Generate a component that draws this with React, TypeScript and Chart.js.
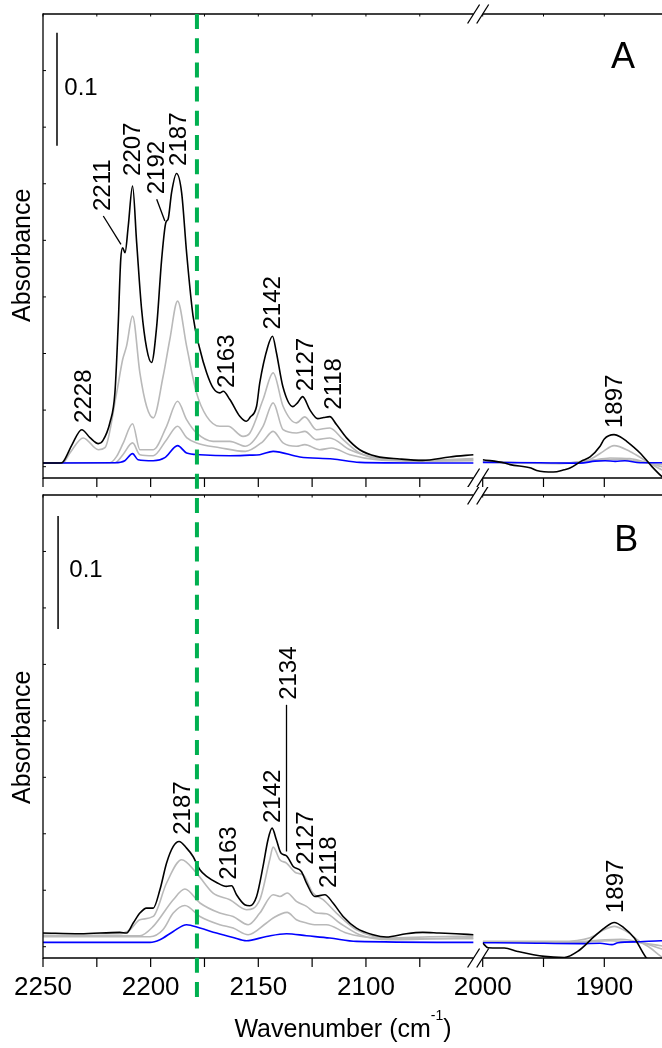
import React, { useEffect, useRef } from "react";
import { Chart, registerables } from "chart.js";

Chart.register(...registerables);

type Pt = [number, number];
type Peak = { text: string; x: number; y: number };
type Leader = [number, number, number, number];

const FONT = '"Liberation Sans", Arial, Helvetica, sans-serif';
const BLACK = "#000000";
const GREY = "#b9b9b9";
const BLUE = "#0000ff";
const GREEN = "#00b050";

// ---------- axes ----------
const Y_MIN = -0.01;
const Y_MAX = 0.4;
const LEFT_MIN = 2050;
const LEFT_MAX = 2250;
const RIGHT_MIN = 1850;
const RIGHT_MAX = 2000;
const leftTicks = [2250, 2225, 2200, 2175, 2150, 2125, 2100, 2075];
const leftTickLabels = [2250, 2200, 2150, 2100];
const rightTicks = [2000, 1950, 1900];
const rightTickLabels = [2000, 1900];
const yTicks = [0, 0.05, 0.1, 0.15, 0.2, 0.25, 0.3, 0.35];
const markerWavenumber = 2178.5;
const scaleBarValue = 0.1;

// ---------- panel A, 2250-2050 ----------
const aLeftBlack: Pt[] = [
  [2250, 0.0033], [2242, 0.0033], [2240.6, 0.0044], [2236.5, 0.0195], [2232, 0.0327],
  [2228.2, 0.0257], [2224.3, 0.0204], [2222.2, 0.023], [2218.9, 0.039], [2216.6, 0.0652],
  [2215.1, 0.124], [2213.9, 0.183], [2213.0, 0.1935], [2211.9, 0.189], [2210.4, 0.2127],
  [2208.4, 0.248], [2206.5, 0.198], [2204.2, 0.139], [2201.9, 0.105], [2199.6, 0.092],
  [2197.2, 0.124], [2194.9, 0.183], [2192.9, 0.216], [2191.9, 0.2186], [2190.3, 0.242],
  [2188.0, 0.259], [2185.6, 0.242], [2183.3, 0.189], [2180.3, 0.133], [2177.1, 0.1035],
  [2174.0, 0.083], [2171.0, 0.0696], [2167.9, 0.0652], [2166.3, 0.0666], [2163.2, 0.0593],
  [2158.6, 0.0445], [2155.5, 0.0401], [2153.9, 0.0434], [2150.8, 0.0534], [2149.3, 0.0743],
  [2145.6, 0.106], [2143.4, 0.1153], [2141.6, 0.1009], [2138.6, 0.0708], [2134.0, 0.0531],
  [2131.7, 0.0566], [2129.4, 0.0619], [2126.1, 0.0504], [2122.4, 0.0425], [2119.6, 0.0434],
  [2116.8, 0.0442], [2113.7, 0.0372], [2109.1, 0.0257], [2102.9, 0.015], [2095.1, 0.0091],
  [2084.3, 0.0068], [2073.7, 0.0056], [2061.1, 0.0086], [2050, 0.0106],
];
const aLeftGrey1: Pt[] = [
  [2250, 0.0033], [2240.7, 0.0035], [2237.5, 0.0121], [2231.3, 0.0254], [2224.3, 0.015],
  [2221.2, 0.0168], [2215.8, 0.0652], [2213.0, 0.0947], [2211.2, 0.1065], [2208.4, 0.133],
  [2205.0, 0.0829], [2201.9, 0.0534], [2198.8, 0.0431], [2194.2, 0.0799], [2191.1, 0.1124],
  [2187.5, 0.1463], [2183.3, 0.1065], [2178.7, 0.0652], [2174.0, 0.0445], [2167.9, 0.0357],
  [2164.0, 0.0357], [2157.1, 0.0268], [2153.9, 0.0298], [2147.8, 0.0593], [2143.1, 0.0829],
  [2138.5, 0.0534], [2132.3, 0.0387], [2128.4, 0.044], [2123.0, 0.0327], [2116.8, 0.0342],
  [2110.6, 0.0239], [2102.9, 0.0121], [2092.1, 0.0068], [2075.1, 0.0058], [2050, 0.0071],
];
const aLeftGrey2: Pt[] = [
  [2250, 0.0033], [2218.9, 0.0035], [2215.8, 0.0091], [2212.7, 0.021], [2208.4, 0.038],
  [2205.0, 0.015], [2198.8, 0.015], [2192.6, 0.0357], [2187.5, 0.0578], [2183.3, 0.0416],
  [2178.7, 0.0298], [2171.0, 0.0224], [2163.2, 0.0224], [2156.0, 0.018], [2147.8, 0.0357],
  [2143.1, 0.0564], [2138.5, 0.0327], [2132.3, 0.0298], [2128.4, 0.0312], [2123.0, 0.0239],
  [2116.8, 0.0254], [2107.5, 0.015], [2095.1, 0.0077], [2075.1, 0.0053], [2050, 0.0062],
];
const aLeftGrey3: Pt[] = [
  [2250, 0.0033], [2216.6, 0.0035], [2212.9, 0.0106], [2208.4, 0.021], [2205.0, 0.0106],
  [2198.8, 0.0097], [2192.6, 0.0239], [2187.5, 0.0357], [2183.3, 0.0257], [2178.7, 0.021],
  [2167.9, 0.0168], [2156.0, 0.0135], [2148.0, 0.022], [2143.1, 0.0312], [2138.5, 0.021],
  [2132.3, 0.018], [2128.4, 0.0195], [2121.5, 0.015], [2116.0, 0.0165], [2107.5, 0.0106],
  [2095.1, 0.0062], [2075.1, 0.0049], [2050, 0.0053],
];
const aLeftBlue: Pt[] = [
  [2250, 0.0033], [2216.6, 0.0035], [2212.0, 0.0053], [2208.4, 0.0115], [2205.9, 0.0062],
  [2198.8, 0.0053], [2193.4, 0.008], [2187.5, 0.0186], [2183.3, 0.0121], [2177.1, 0.0106],
  [2163.2, 0.0097], [2153.9, 0.0102], [2149.3, 0.0106], [2143.1, 0.0135], [2130.7, 0.0086],
  [2115.4, 0.0068], [2102.9, 0.0038], [2075.1, 0.0033], [2050, 0.0033],
];

// ---------- panel A, 2000-1850 ----------
const aRightBlack: Pt[] = [
  [2000, 0.0062], [1982.2, 0.0033], [1977.5, 0.0018], [1960.3, -0.0012], [1955.6, -0.0033],
  [1941.9, -0.0047], [1932.9, -0.0027], [1928.2, -0.0012], [1919.2, 0.0047], [1911.7, 0.0086],
  [1903.5, 0.018], [1900.0, 0.0245], [1892.0, 0.0283], [1887.0, 0.0265], [1881.6, 0.0224],
  [1870.6, 0.0121], [1861.0, 0.0003], [1852.8, -0.0086], [1850, -0.011],
];
const aRightGrey1: Pt[] = [
  [2000, 0.0044], [1969.3, 0.0035], [1936.4, 0.0031], [1920, 0.0033], [1907.7, 0.0088],
  [1900.8, 0.0135], [1892, 0.0186], [1878.9, 0.0135], [1865.1, 0.0047], [1852.8, -0.0027],
  [1850, -0.004],
];
const aRightGrey2: Pt[] = [
  [2000, 0.0044], [1936.4, 0.0027], [1911.7, 0.0053], [1895.3, 0.0077], [1878.9, 0.0071],
  [1862.4, 0.0027], [1852.8, 0.0], [1850, -0.0008],
];
const aRightGrey3: Pt[] = [
  [2000, 0.004], [1936.4, 0.0031], [1903.5, 0.0062], [1886.5, 0.0066], [1866, 0.0035],
  [1852.8, 0.0018], [1850, 0.0015],
];
const aRightBlue: Pt[] = [
  [2000, 0.0038], [1952.9, 0.0035], [1920, 0.0031], [1907.7, 0.0049], [1899.4, 0.0053],
  [1891, 0.0047], [1883, 0.0053], [1870.6, 0.0035], [1852.8, 0.0035], [1850, 0.0035],
];

// ---------- panel B, 2250-2050 ----------
const bLeftBlack: Pt[] = [
  [2250, 0.0121], [2232.8, 0.0115], [2214.3, 0.0127], [2211.2, 0.0121], [2208.1, 0.021],
  [2205.0, 0.0298], [2201.9, 0.0342], [2198.8, 0.0342], [2195.7, 0.0504], [2192.6, 0.0741],
  [2189.5, 0.0888], [2186.8, 0.0932], [2183.3, 0.0873], [2180.3, 0.0799], [2177.1, 0.0681],
  [2174.0, 0.0622], [2169.4, 0.0569], [2164.8, 0.0534], [2162.4, 0.054], [2160.1, 0.046],
  [2156.3, 0.0372], [2153.9, 0.0363], [2150.8, 0.0445], [2147.8, 0.0711], [2145.5, 0.0947],
  [2143.6, 0.105], [2141.6, 0.0947], [2139.5, 0.0829], [2136.9, 0.0805], [2133.8, 0.0711],
  [2130.0, 0.0666], [2127.6, 0.0564], [2123.8, 0.0445], [2119.1, 0.046], [2115.3, 0.0387],
  [2110.6, 0.0268], [2104.4, 0.0165], [2096.7, 0.0106], [2090.5, 0.0086], [2081.3, 0.0115],
  [2073.6, 0.0127], [2066.0, 0.0121], [2058.1, 0.0115], [2050, 0.0106],
];
const bLeftGrey1: Pt[] = [
  [2250, 0.0115], [2214.3, 0.0115], [2209.6, 0.015], [2205.0, 0.0239], [2198.8, 0.0268],
  [2192.6, 0.0564], [2185.6, 0.077], [2178.7, 0.0652], [2171.0, 0.0475], [2163.2, 0.0416],
  [2155.5, 0.0327], [2149.3, 0.0416], [2144.7, 0.077], [2143.1, 0.0882], [2140.0, 0.077],
  [2136.9, 0.0741], [2132.3, 0.0652], [2129.2, 0.0637], [2124.6, 0.0475], [2119.9, 0.0416],
  [2113.7, 0.0298], [2104.4, 0.015], [2089.0, 0.0077], [2070.4, 0.0088], [2050, 0.0093],
];
const bLeftGrey2: Pt[] = [
  [2250, 0.0097], [2205.0, 0.0097], [2198.8, 0.018], [2189.5, 0.0416], [2184.1, 0.0511],
  [2177.1, 0.0387], [2167.9, 0.0298], [2161.7, 0.0268], [2154.7, 0.0195], [2149.3, 0.0298],
  [2143.1, 0.046], [2140.0, 0.0445], [2136.6, 0.0475], [2132.3, 0.0401], [2127.6, 0.0357],
  [2123.0, 0.0298], [2118.4, 0.0292], [2112.2, 0.021], [2102.9, 0.0106], [2089.0, 0.0062],
  [2050, 0.008],
];
const bLeftGrey3: Pt[] = [
  [2250, 0.0088], [2200.3, 0.0088], [2194.3, 0.015], [2189.5, 0.0298], [2184.1, 0.0365],
  [2177.1, 0.0268], [2167.9, 0.0195], [2161.7, 0.0165], [2154.7, 0.0106], [2146.2, 0.021],
  [2143.1, 0.0254], [2136.6, 0.0304], [2132.3, 0.0239], [2127.6, 0.021], [2123.0, 0.0195],
  [2118.4, 0.0195], [2109.1, 0.0121], [2096.9, 0.008], [2050, 0.0071],
];
const bLeftBlue: Pt[] = [
  [2250, 0.0038], [2200.3, 0.0038], [2195.7, 0.0062], [2189.5, 0.0135], [2183.3, 0.0195],
  [2177.1, 0.0165], [2169.4, 0.0121], [2161.7, 0.0082], [2155.5, 0.0053], [2146.2, 0.0091],
  [2136.9, 0.0115], [2127.6, 0.0097], [2116.8, 0.0077], [2104.4, 0.0047], [2050, 0.0038],
];

// ---------- panel B, 2000-1850 ----------
const bRightBlack: Pt[] = [
  [2000, 0.0033], [1995.6, -0.0009], [1982.2, -0.0012], [1971.2, -0.0042], [1949.3, -0.0086],
  [1932.9, -0.0095], [1921.9, -0.0042], [1908.2, 0.0091], [1900.0, 0.0165], [1891.8, 0.0215],
  [1883.6, 0.0165], [1875.3, 0.0077], [1865.7, -0.0095], [1858.3, -0.016],
];
const bRightGrey1: Pt[] = [
  [2000, 0.0047], [1936.4, 0.0047], [1911.7, 0.008], [1900.2, 0.015], [1891.8, 0.018],
  [1883, 0.0142], [1870.6, 0.0044], [1862.4, -0.0009], [1853.4, -0.0086], [1850, -0.011],
];
const bRightGrey2: Pt[] = [
  [2000, 0.0044], [1920, 0.0044], [1899.4, 0.0062], [1886.5, 0.0066], [1866, 0.0027],
  [1853.4, -0.0018], [1850, -0.0025],
];
const bRightGrey3: Pt[] = [
  [2000, 0.004], [1920, 0.004], [1895.3, 0.0053], [1870.6, 0.0035], [1853.4, 0.0009],
  [1850, 0.0005],
];
const bRightBlue: Pt[] = [
  [2000, 0.0035], [1969.3, 0.0033], [1920, 0.0027], [1903.5, 0.0031], [1893.7, 0.0018],
  [1888.8, 0.0035], [1870.6, 0.0044], [1853.4, 0.0053], [1850, 0.0053],
];

// ---------- peak labels (wavenumber of label centre, absorbance of label start) ----------
const peaksALeft: Peak[] = [
  { text: "2228", x: 2231.5, y: 0.0387 },
  { text: "2211", x: 2222.8, y: 0.2259 },
  { text: "2207", x: 2209.1, y: 0.2569 },
  { text: "2192", x: 2197.8, y: 0.2407 },
  { text: "2187", x: 2187.7, y: 0.2658 },
  { text: "2163", x: 2165.3, y: 0.0696 },
  { text: "2142", x: 2143.7, y: 0.1212 },
  { text: "2127", x: 2128.6, y: 0.0666 },
  { text: "2118", x: 2115.5, y: 0.0504 },
];
const peaksARight: Peak[] = [{ text: "1897", x: 1892.7, y: 0.0342 }];
const peaksBLeft: Peak[] = [
  { text: "2187", x: 2185.6, y: 0.0991 },
  { text: "2163", x: 2164.4, y: 0.0593 },
  { text: "2142", x: 2144.1, y: 0.1095 },
  { text: "2134", x: 2136.5, y: 0.2186 },
  { text: "2127", x: 2128.8, y: 0.0726 },
  { text: "2118", x: 2118.1, y: 0.0519 },
];
const peaksBRight: Peak[] = [{ text: "1897", x: 1892.0, y: 0.0298 }];
const leadersA: Leader[] = [
  [2222.0, 0.2215, 2213.8, 0.1965],
  [2197.2, 0.2363, 2193.4, 0.2171],
];
const leadersB: Leader[] = [[2136.9, 0.2142, 2136.9, 0.0843]];

// ---------- layout ----------
type TextSpec = { text: string; x: number; y: number; size: number; align: CanvasTextAlign; rotate?: boolean };
interface Spec {
  id: string;
  box: { left: number; top: number; width: number; height: number };
  area: { left: number; top: number; right: number; bottom: number };
  xMin: number;
  xMax: number;
  series: { data: Pt[]; color: string }[];
  xTicks: number[];
  xLabels: number[];
  side: "left" | "right";
  peaks: Peak[];
  leaders: Leader[];
  texts: TextSpec[];
  scaleBar?: { x: number; y0: number };
  marker?: boolean;
  title?: boolean;
}

const series = (b: Pt[], g1: Pt[], g2: Pt[], g3: Pt[], bl: Pt[]) => [
  { data: b, color: BLACK },
  { data: bl, color: BLUE },
  { data: g1, color: GREY },
  { data: g2, color: GREY },
  { data: g3, color: GREY },
];

const specs: Spec[] = [
  {
    id: "aL",
    box: { left: 0, top: 0, width: 480, height: 487 },
    area: { left: 43, top: 14, right: 473.6, bottom: 478 },
    xMin: LEFT_MIN, xMax: LEFT_MAX,
    series: series(aLeftBlack, aLeftGrey1, aLeftGrey2, aLeftGrey3, aLeftBlue),
    xTicks: leftTicks, xLabels: [], side: "left",
    peaks: peaksALeft, leaders: leadersA,
    texts: [
      { text: "Absorbance", x: 30, y: 322, size: 25, align: "left", rotate: true },
      { text: "0.1", x: 64.3, y: 95, size: 24, align: "left" },
    ],
    scaleBar: { x: 2243.5, y0: 0.2835 },
    marker: true,
  },
  {
    id: "aR",
    box: { left: 440, top: 0, width: 228, height: 487 },
    area: { left: 482.7, top: 14, right: 665.1, bottom: 478 },
    xMin: RIGHT_MIN, xMax: RIGHT_MAX,
    series: series(aRightBlack, aRightGrey1, aRightGrey2, aRightGrey3, aRightBlue),
    xTicks: rightTicks, xLabels: [], side: "right",
    peaks: peaksARight, leaders: [],
    texts: [{ text: "A", x: 611, y: 68.3, size: 36, align: "left" }],
  },
  {
    id: "bL",
    box: { left: 0, top: 487, width: 480, height: 561 },
    area: { left: 43, top: 495, right: 473.6, bottom: 958 },
    xMin: LEFT_MIN, xMax: LEFT_MAX,
    series: series(bLeftBlack, bLeftGrey1, bLeftGrey2, bLeftGrey3, bLeftBlue),
    xTicks: leftTicks, xLabels: leftTickLabels, side: "left",
    peaks: peaksBLeft, leaders: leadersB,
    texts: [
      { text: "Absorbance", x: 30, y: 804, size: 25, align: "left", rotate: true },
      { text: "0.1", x: 69.3, y: 576.7, size: 24, align: "left" },
    ],
    scaleBar: { x: 2243.0, y0: 0.2814 },
    marker: true,
    title: true,
  },
  {
    id: "bR",
    box: { left: 440, top: 487, width: 228, height: 561 },
    area: { left: 482.7, top: 495, right: 665.1, bottom: 958 },
    xMin: RIGHT_MIN, xMax: RIGHT_MAX,
    series: series(bRightBlack, bRightGrey1, bRightGrey2, bRightGrey3, bRightBlue),
    xTicks: rightTicks, xLabels: rightTickLabels, side: "right",
    peaks: peaksBRight, leaders: [],
    texts: [{ text: "B", x: 614.3, y: 550.7, size: 36, align: "left" }],
  },
];

function decorPlugin(spec: Spec) {
  return {
    id: "decor_" + spec.id,
    afterDraw(chart: any) {
      const ctx: CanvasRenderingContext2D = chart.ctx;
      const xs = chart.scales.x;
      const ys = chart.scales.y;
      const a = chart.chartArea;
      const ox = spec.box.left;
      const oy = spec.box.top;
      const px = (v: number) => xs.getPixelForValue(v);
      const py = (v: number) => ys.getPixelForValue(v);
      const seg = (x1: number, y1: number, x2: number, y2: number, w = 1.3, c = BLACK) => {
        ctx.beginPath();
        ctx.lineWidth = w;
        ctx.strokeStyle = c;
        ctx.moveTo(x1, y1);
        ctx.lineTo(x2, y2);
        ctx.stroke();
      };
      ctx.save();
      ctx.lineCap = "butt";
      // frame
      seg(a.left, a.top, a.right, a.top);
      seg(a.left, a.bottom, a.right, a.bottom);
      if (spec.side === "left") {
        seg(a.left, a.top - 0.65, a.left, a.bottom + 0.65);
        for (const t of yTicks) {
          const y = py(t);
          seg(a.left, y, a.left + 3, y, 1);
        }
      }
      for (const t of spec.xTicks) {
        const x = px(t);
        seg(x, a.bottom, x, a.bottom + 9, 1.2);
        seg(x, a.top, x, a.top + 2.5, 1);
      }
      // axis break marks
      const bx = spec.side === "left" ? a.right : a.left;
      for (const y of [a.top, a.bottom]) seg(bx - 6, y + 9.5, bx + 6, y - 9.5, 1.3);

      // tick labels
      ctx.fillStyle = BLACK;
      ctx.font = `26px ${FONT}`;
      ctx.textAlign = "center";
      ctx.textBaseline = "alphabetic";
      for (const t of spec.xLabels) ctx.fillText(String(t), px(t), 995 - oy);

      // peak labels
      const ps = 24;
      ctx.font = `${ps}px ${FONT}`;
      for (const p of spec.peaks) {
        ctx.save();
        ctx.translate(px(p.x) + 0.358 * ps, py(p.y));
        ctx.rotate(-Math.PI / 2);
        ctx.textAlign = "left";
        ctx.fillText(p.text, 0, 0);
        ctx.restore();
      }
      for (const l of spec.leaders) seg(px(l[0]), py(l[1]), px(l[2]), py(l[3]), 1.3);

      // scale bar
      if (spec.scaleBar) {
        const x = px(spec.scaleBar.x);
        seg(x, py(spec.scaleBar.y0), x, py(spec.scaleBar.y0 + scaleBarValue), 1.5);
      }

      // free texts
      for (const t of spec.texts) {
        ctx.font = `${t.size}px ${FONT}`;
        ctx.textAlign = t.align;
        if (t.rotate) {
          ctx.save();
          ctx.translate(t.x - ox, t.y - oy);
          ctx.rotate(-Math.PI / 2);
          ctx.fillText(t.text, 0, 0);
          ctx.restore();
        } else {
          ctx.fillText(t.text, t.x - ox, t.y - oy);
        }
      }

      // x-axis title with superscript
      if (spec.title) {
        const main1 = "Wavenumber (cm";
        const sup = "-1";
        const main2 = ")";
        ctx.textAlign = "left";
        ctx.font = `25px ${FONT}`;
        const w1 = ctx.measureText(main1).width;
        const w3 = ctx.measureText(main2).width;
        ctx.font = `14px ${FONT}`;
        const w2 = ctx.measureText(sup).width;
        let x = 343 - (w1 + w2 + w3) / 2 - ox;
        const base = 1036.7 - oy;
        ctx.font = `25px ${FONT}`;
        ctx.fillText(main1, x, base);
        x += w1;
        ctx.font = `14px ${FONT}`;
        ctx.fillText(sup, x, base - 16.5);
        x += w2;
        ctx.font = `25px ${FONT}`;
        ctx.fillText(main2, x, base);
      }

      // dashed marker line
      if (spec.marker) {
        ctx.save();
        ctx.setLineDash([15, 9.2]);
        const x = px(markerWavenumber);
        seg(x, 14 - oy, x, 1002 - oy, 4, GREEN);
        ctx.restore();
      }
      ctx.restore();
    },
  };
}

function buildConfig(spec: Spec): any {
  const pad = {
    left: spec.area.left - spec.box.left,
    top: spec.area.top - spec.box.top,
    right: spec.box.left + spec.box.width - spec.area.right,
    bottom: spec.box.top + spec.box.height - spec.area.bottom,
  };
  return {
    type: "line",
    data: {
      datasets: spec.series.map((s) => ({
        data: s.data.map(([x, y]) => ({ x, y })),
        borderColor: s.color,
        borderWidth: 1.6,
        pointRadius: 0,
        fill: false,
        cubicInterpolationMode: "monotone",
        clip: 0,
      })),
    },
    options: {
      responsive: false,
      animation: false,
      devicePixelRatio: 1,
      events: [],
      layout: { padding: pad },
      plugins: { legend: { display: false }, tooltip: { enabled: false } },
      scales: {
        x: { type: "linear", display: false, min: spec.xMin, max: spec.xMax, reverse: true },
        y: { type: "linear", display: false, min: Y_MIN, max: Y_MAX },
      },
    },
    plugins: [decorPlugin(spec)],
  };
}

function PanelCanvas({ spec }: { spec: Spec }) {
  const ref = useRef<HTMLCanvasElement | null>(null);
  useEffect(() => {
    const el = ref.current;
    if (!el) return;
    const chart = new Chart(el, buildConfig(spec));
    return () => chart.destroy();
  }, [spec]);
  return (
    <canvas
      ref={ref}
      width={spec.box.width}
      height={spec.box.height}
      style={{
        position: "absolute",
        left: spec.box.left,
        top: spec.box.top,
        width: spec.box.width,
        height: spec.box.height,
      }}
    />
  );
}

export default function App() {
  return (
    <div
      style={{
        position: "absolute",
        left: 0,
        top: 0,
        width: 662,
        height: 1048,
        overflow: "hidden",
        background: "#ffffff",
      }}
    >
      {specs.map((s) => (
        <PanelCanvas key={s.id} spec={s} />
      ))}
    </div>
  );
}
